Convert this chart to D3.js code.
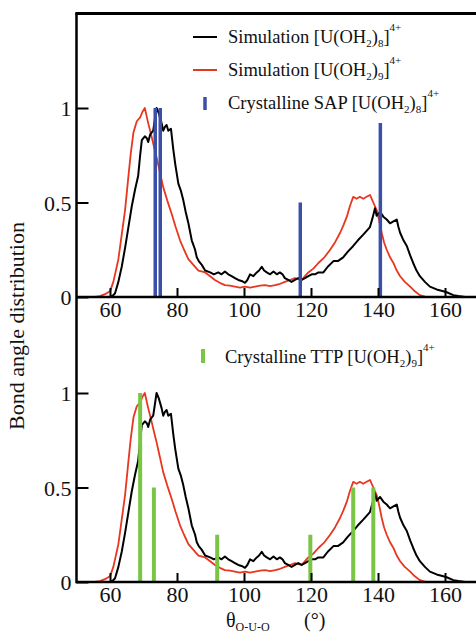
<!DOCTYPE html>
<html>
<head>
<meta charset="utf-8">
<script src="https://cdn.jsdelivr.net/npm/d3@7"></script>
<style>
  html, body { margin: 0; padding: 0; background: #fff; }
  svg { display: block; }
  text { font-family: "Liberation Serif", "DejaVu Serif", serif; fill: #111; }
</style>
</head>
<body>
<svg id="chart" width="476" height="634"></svg>
<script>
// ---- data ----
const blackAngle = [55,58,60,61,61.5,62.5,63.5,64.5,65.5,66.5,67.5,68.4,69,69.5,70.4,71,71.4,72,72.9,73.9,74.6,75.4,75.9,76.4,76.9,77.4,78.2,78.9,79.5,80.4,81.2,81.9,82.6,83.4,84.4,85.4,85.9,86.5,87.4,88.4,89.9,91,92.3,93.3,94.3,95.3,96.3,97.3,98.3,99.3,100.3,101,101.8,102.8,103.8,104.5,105.3,106,106.8,107.8,108.8,109.8,110.7,111.5,112.2,113.2,114.2,115.2,116.2,117.2,118.2,119.2,120.2,121.2,122.2,123.7,125,126.7,128,129.6,131,132.6,134,135.6,136.6,137.6,138.4,139.1,139.6,140.6,141.6,142.6,143.6,144.6,145.6,146.1,146.6,147.6,148.6,149.6,150.5,151.5,152.5,154,155.5,157.5,159.5,160.5,162.5,164,166,170];
const blackValue = [0,0,0,0.01,0.02,0.08,0.16,0.26,0.37,0.48,0.57,0.64,0.75,0.83,0.85,0.84,0.82,0.86,0.88,1.0,0.97,0.92,0.88,0.9,0.91,0.88,0.89,0.78,0.7,0.6,0.56,0.51,0.45,0.39,0.3,0.25,0.21,0.19,0.17,0.14,0.13,0.12,0.13,0.12,0.135,0.12,0.11,0.1,0.09,0.085,0.075,0.09,0.12,0.11,0.13,0.14,0.16,0.14,0.13,0.12,0.135,0.12,0.13,0.12,0.1,0.09,0.08,0.09,0.1,0.09,0.1,0.11,0.12,0.12,0.13,0.13,0.16,0.19,0.19,0.21,0.24,0.27,0.3,0.33,0.35,0.37,0.42,0.47,0.43,0.45,0.425,0.41,0.39,0.4,0.41,0.37,0.34,0.3,0.27,0.22,0.18,0.14,0.11,0.08,0.055,0.04,0.03,0.025,0.01,0.005,0,0];

const redAngle = [54,55.5,57,58.5,60,61,62.5,63.5,64.5,65.5,66.2,67,68,69,69.7,70.4,71.4,72.4,73.2,73.9,74.9,75.9,77.1,78.4,79.6,80.9,82.1,83.4,84.9,86.4,88.4,89.9,91.3,92.8,94.3,95.8,97.3,98.8,100.3,101.8,103.3,104.8,106.3,107.8,109.3,110.8,112.2,113.7,115.2,116.2,117.2,118.2,119.2,120.7,122.2,124,125.7,127.2,128.7,129.7,130.7,131.6,132.6,133.6,134.6,135.6,136.6,137.6,138.6,139.6,140.3,141.1,141.8,142.6,143.6,144.6,145.6,146.6,148,149.6,151,152.5,154.5,170];
const redValue = [0,0,0.005,0.015,0.03,0.08,0.2,0.33,0.46,0.64,0.76,0.87,0.93,0.95,0.98,1.0,0.92,0.85,0.79,0.74,0.66,0.58,0.51,0.44,0.37,0.3,0.25,0.2,0.17,0.14,0.13,0.11,0.09,0.075,0.063,0.06,0.055,0.05,0.055,0.05,0.055,0.06,0.063,0.058,0.063,0.07,0.08,0.09,0.1,0.095,0.09,0.11,0.13,0.15,0.18,0.21,0.25,0.29,0.34,0.38,0.425,0.48,0.53,0.52,0.53,0.52,0.53,0.54,0.5,0.46,0.41,0.34,0.29,0.25,0.21,0.18,0.14,0.11,0.08,0.055,0.03,0.01,0,0];

const sapAngle = [73.5, 75, 116.8, 140.7];
const sapValue = [1.0, 1.0, 0.5, 0.92];

const ttpAngle = [69, 73.1, 92, 119.8, 132.6, 138.6];
const ttpValue = [1.0, 0.5, 0.25, 0.25, 0.5, 0.5];

const xTicks = [60, 80, 100, 120, 140, 160];
const yTicks = [0, 0.5, 1];

// ---- drawing ----
const svg = d3.select("#chart");
const x = d3.scaleLinear([50, 170], [76.5, 478.5]);
const yTop = d3.scaleLinear([0, 1.5], [297, 13.5]);
const yBot = d3.scaleLinear([0, 1.5], [582, 298.5]);

const black = blackAngle.map((a, i) => [a, blackValue[i]]);
const red = redAngle.map((a, i) => [a, redValue[i]]);

function panel(y, sticks, stickColor, stickW) {
  const g = svg.append("g");
  const line = d3.line().x(d => x(d[0])).y(d => y(d[1]));
  g.append("path").datum(red).attr("d", line)
    .attr("fill", "none").attr("stroke", "#e8361f").attr("stroke-width", 1.8).attr("stroke-linejoin", "round");
  g.append("path").datum(black).attr("d", line)
    .attr("fill", "none").attr("stroke", "#000").attr("stroke-width", 2).attr("stroke-linejoin", "round");
  g.selectAll("line.stick").data(sticks).join("line")
    .attr("class", "stick")
    .attr("x1", d => x(d[0])).attr("x2", d => x(d[0]))
    .attr("y1", y(0)).attr("y2", d => y(d[1]))
    .attr("stroke", stickColor).attr("stroke-width", stickW);

  const ax = d3.axisBottom(x).tickValues(xTicks).tickSizeInner(-9).tickSizeOuter(0).tickPadding(4).tickFormat(d3.format("d"));
  const gx = g.append("g").attr("transform", `translate(0,${y(0)})`).call(ax);
  gx.select(".domain").remove();
  gx.selectAll(".tick line").attr("stroke", "#000").attr("stroke-width", 2);
  gx.selectAll(".tick text").attr("font-size", 22).attr("font-family", "Liberation Serif").attr("fill", "#111");

  const ay = d3.axisLeft(y).tickValues(yTicks).tickSizeInner(-12).tickSizeOuter(0).tickPadding(5).tickFormat(d => d === 0.5 ? "0.5" : d3.format("d")(d));
  const gy = g.append("g").attr("transform", `translate(${x(50)},0)`).call(ay);
  gy.select(".domain").remove();
  gy.selectAll(".tick line").attr("stroke", "#000").attr("stroke-width", 2);
  gy.selectAll(".tick text").attr("font-size", 22).attr("font-family", "Liberation Serif").attr("fill", "#111").attr("dy", "0.36em");

  // bottom axis line
  g.append("line").attr("x1", x(50)).attr("x2", x(170)).attr("y1", y(0)).attr("y2", y(0))
    .attr("stroke", "#000").attr("stroke-width", 2.5);
}

panel(yTop, sapAngle.map((a, i) => [a, sapValue[i]]), "#3b4fa6", 3.5);
panel(yBot, ttpAngle.map((a, i) => [a, ttpValue[i]]), "#7ac546", 4);

// frame: top border and left spine
svg.append("line").attr("x1", x(50) - 1.2).attr("x2", x(170)).attr("y1", yTop(1.5)).attr("y2", yTop(1.5))
  .attr("stroke", "#000").attr("stroke-width", 3);
svg.append("line").attr("x1", x(50)).attr("x2", x(50)).attr("y1", yTop(1.5)).attr("y2", yBot(0) + 1.2)
  .attr("stroke", "#000").attr("stroke-width", 2.5);

// legend helper
function legendLabel(px, py, prefix, n) {
  const t = svg.append("text").attr("x", px).attr("y", py).attr("font-size", 18.5);
  t.append("tspan").text(prefix + " [U(OH");
  t.append("tspan").attr("font-size", 11).attr("dy", 4).text("2");
  t.append("tspan").attr("dy", -4).text(")");
  t.append("tspan").attr("font-size", 11).attr("dy", 4).text(n);
  t.append("tspan").attr("dy", -4).text("]");
  t.append("tspan").attr("font-size", 11).attr("dy", -12).text("4+");
}

svg.append("line").attr("x1", 193).attr("x2", 217).attr("y1", 37).attr("y2", 37).attr("stroke", "#000").attr("stroke-width", 2);
legendLabel(228, 43, "Simulation", "8");
svg.append("line").attr("x1", 193).attr("x2", 217).attr("y1", 70).attr("y2", 70).attr("stroke", "#e8361f").attr("stroke-width", 2);
legendLabel(228, 76, "Simulation", "9");
svg.append("line").attr("x1", 205).attr("x2", 205).attr("y1", 97).attr("y2", 110).attr("stroke", "#3b4fa6").attr("stroke-width", 3.5);
legendLabel(228, 109, "Crystalline SAP", "8");

svg.append("line").attr("x1", 203).attr("x2", 203).attr("y1", 349).attr("y2", 363).attr("stroke", "#7ac546").attr("stroke-width", 4);
legendLabel(225, 363, "Crystalline TTP", "9");

// axis titles
svg.append("text").attr("transform", "translate(24,326) rotate(-90)")
  .attr("text-anchor", "middle").attr("font-size", 22).text("Bond angle distribution");

const xt = svg.append("text").attr("x", 226).attr("y", 627).attr("font-size", 20);
xt.append("tspan").text("θ");
xt.append("tspan").attr("font-size", 12).attr("dy", 4).text("O-U-O");
xt.append("tspan").attr("dy", -4).attr("x", 304).text("(°)");
</script>
</body>
</html>
